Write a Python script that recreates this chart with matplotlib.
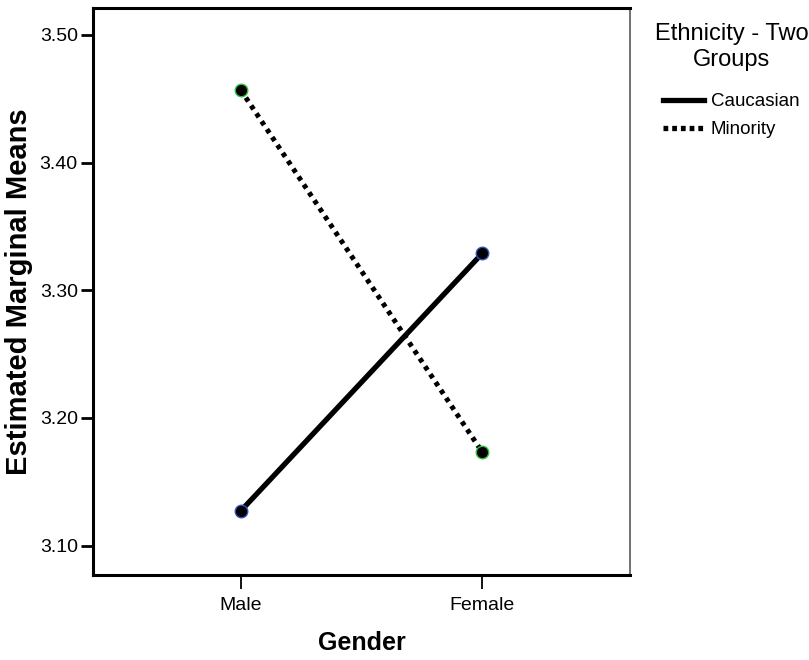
import matplotlib.pyplot as plt

# data
genders = ['Male', 'Female']
caucasian = [3.127, 3.329]
minority = [3.457, 3.173]
y_ticks = [3.10, 3.20, 3.30, 3.40, 3.50]

plt.rcParams['font.family'] = ['Liberation Sans', 'DejaVu Sans']

fig = plt.figure(figsize=(8.09, 6.6), dpi=100)
ax = fig.add_axes([93 / 809, 1 - 575 / 660, (630 - 93) / 809, (575 - 8) / 660])

x = list(range(len(genders)))
ax.plot(x, caucasian, color='black', lw=3.8, solid_capstyle='round',
        marker='o', ms=9, mfc='black', mec='#3050c0', mew=1, label='Caucasian')
ax.plot(x, minority, color='black', lw=3.6, linestyle=(0, (0.9, 1.0)),
        marker='o', ms=9, mfc='black', mec='#30c040', mew=1, label='Minority')

ax.set_xlim(-0.61, 1.61)
ax.set_ylim(3.077, 3.521)
ax.set_xticks(x)
ax.set_xticklabels(genders)
ax.set_yticks(y_ticks)
ax.set_yticklabels([f'{v:.2f}' for v in y_ticks])
ax.tick_params(axis='y', labelsize=14, length=9, width=2, color='black', pad=2)
ax.tick_params(axis='x', labelsize=14, length=10, width=1.3, pad=6)

for side in ['left', 'bottom', 'top']:
    ax.spines[side].set_linewidth(2.2)
ax.spines['right'].set_linewidth(1.3)
ax.spines['right'].set_color('#666666')

ax.set_ylabel('Estimated Marginal Means', fontsize=21, fontweight='bold', labelpad=5)
fig.text((93 + 630) / 2 / 809, 1 - 650 / 660, 'Gender', ha='center', va='baseline',
         fontsize=18, fontweight='bold')

handles = [
    plt.Line2D([0], [0], color='black', lw=3.8),
    plt.Line2D([0], [0], color='black', lw=3.8, linestyle=(0, (0.9, 0.75))),
]
fig.legend(handles, ['Caucasian', 'Minority'], loc='upper left',
           bbox_to_anchor=(663 / 809, 1 - 93 / 660), frameon=False,
           fontsize=13.5, handlelength=2.2, handletextpad=0.35, labelspacing=0.6,
           borderpad=0, borderaxespad=0)
fig.text(732 / 809, 1 - 47 / 660, 'Ethnicity - Two\nGroups', ha='center', va='center',
         fontsize=17, linespacing=1.2)

fig.savefig('out.png', dpi=100)
